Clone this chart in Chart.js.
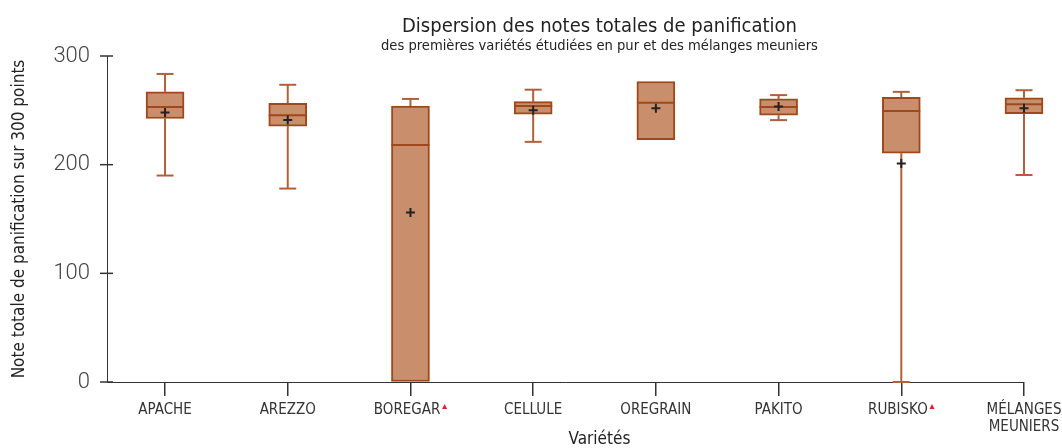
<!DOCTYPE html>
<html>
<head>
<meta charset="utf-8">
<script src="https://cdn.jsdelivr.net/npm/chart.js@4/dist/chart.umd.min.js"></script>
<style>
  html, body { margin: 0; padding: 0; background: #fff; overflow: hidden; }
  #wrap { width: 1062px; height: 448px; }
</style>
</head>
<body>
<div id="wrap"><canvas id="chart"></canvas></div>
<script>
const varieties = ['APACHE', 'AREZZO', 'BOREGAR', 'CELLULE', 'OREGRAIN', 'PAKITO', 'RUBISKO', ['MÉLANGES', 'MEUNIERS']];
const flagged = [false, false, true, false, false, false, true, false];
const mins    = [190,   178,   0,     221,   223,   241,   0,     190.5];
const q1s     = [242.5, 235.5, 0,     246.5, 223,   245.5, 210.5, 247];
const medians = [253,   245.5, 218,   254,   257,   253,   249.5, 255.5];
const q3s     = [267,   256.5, 254,   258,   276.5, 260.5, 262,   261.5];
const maxs    = [283.5, 273.5, 260.5, 269,   276.5, 264,   267,   268.5];
const means   = [248,   241,   156,   250,   252,   253.5, 201,   252];
const yTicks  = [0, 100, 200, 300];

const NARROW = "'DejaVu Sans Condensed', 'Liberation Sans', sans-serif";
const BOX_FILL = 'rgb(201, 143, 108)';
const BOX_LINE = '#a0471b';
const WHISKER = '#b0603a';

// whiskers, medians, axis crosses, red flags and titles
const boxParts = {
    id: 'boxParts',
    beforeDatasetsDraw(chart) {
        const { ctx, scales: { y } } = chart;
        const bars = chart.getDatasetMeta(0).data;
        ctx.save();
        ctx.strokeStyle = WHISKER;
        ctx.lineWidth = 2;
        bars.forEach((bar, i) => {
            const x = bar.x;
            const seg = (a, b) => {
                ctx.beginPath();
                ctx.moveTo(x, y.getPixelForValue(a));
                ctx.lineTo(x, y.getPixelForValue(b));
                ctx.stroke();
            };
            const cap = (v) => {
                const py = y.getPixelForValue(v);
                ctx.beginPath();
                ctx.moveTo(x - 8.5, py);
                ctx.lineTo(x + 8.5, py);
                ctx.stroke();
            };
            if (maxs[i] > q3s[i]) { seg(q3s[i], maxs[i]); cap(maxs[i]); }
            if (mins[i] < q1s[i]) { seg(mins[i], q1s[i]); cap(mins[i]); }
        });
        ctx.restore();
    },
    afterDatasetDraw(chart, args) {
        if (args.index !== 0) return;
        const { ctx, scales: { y } } = chart;
        ctx.save();
        ctx.strokeStyle = BOX_LINE;
        ctx.lineWidth = 2;
        chart.getDatasetMeta(0).data.forEach((bar, i) => {
            const py = y.getPixelForValue(medians[i]);
            ctx.beginPath();
            ctx.moveTo(bar.x - bar.width / 2, py);
            ctx.lineTo(bar.x + bar.width / 2, py);
            ctx.stroke();
        });
        ctx.restore();
    },
    afterDraw(chart) {
        const { ctx, scales: { x, y } } = chart;
        ctx.save();
        // tick marks crossing the y axis
        ctx.strokeStyle = '#333';
        ctx.lineWidth = 1.5;
        yTicks.forEach(v => {
            const py = y.getPixelForValue(v);
            ctx.beginPath();
            ctx.moveTo(y.right - 7, py);
            ctx.lineTo(y.right + 6, py);
            ctx.stroke();
        });
        // red triangles after flagged labels
        ctx.font = '15px ' + NARROW;
        ctx.fillStyle = '#e0202a';
        varieties.forEach((name, i) => {
            if (!flagged[i]) return;
            const w = ctx.measureText(name + '\u2002').width;
            const right = x.getPixelForValue(i) + w / 2;
            const top = x.top + 22;
            ctx.beginPath();
            ctx.moveTo(right - 5, top + 5);
            ctx.lineTo(right, top + 5);
            ctx.lineTo(right - 2.5, top);
            ctx.closePath();
            ctx.fill();
        });
        // titles
        const cx = x.getPixelForValue(3.54);
        ctx.fillStyle = '#222';
        ctx.textAlign = 'center';
        ctx.textBaseline = 'alphabetic';
        ctx.font = '20px ' + NARROW;
        ctx.fillText('Dispersion des notes totales de panification', cx, 32);
        ctx.font = '14.6px ' + NARROW;
        ctx.fillText('des premières variétés étudiées en pur et des mélanges meuniers', cx, 50);
        ctx.font = '17px ' + NARROW;
        ctx.fillText('Variétés', cx, 444);
        ctx.restore();
    }
};

new Chart(document.getElementById('chart'), {
    type: 'bar',
    data: {
        datasets: [{
            type: 'bar',
            data: varieties.map((_, i) => ({ x: i, y: [q1s[i], q3s[i]] })),
            backgroundColor: BOX_FILL,
            borderColor: BOX_LINE,
            borderWidth: 2,
            borderSkipped: false,
            barThickness: 38,
            grouped: false,
            clip: false,
            order: 2,
        }, {
            type: 'line',
            data: varieties.map((_, i) => ({ x: i, y: means[i] })),
            showLine: false,
            pointStyle: 'cross',
            pointRadius: 4.5,
            pointBorderColor: '#222',
            pointBorderWidth: 2,
            clip: false,
            order: 1,
        }],
    },
    options: {
        responsive: true,
        maintainAspectRatio: false,
        animation: false,
        layout: {
            padding: { top: 56, right: 38, bottom: 0, left: 0 },
        },
        scales: {
            x: {
                type: 'linear',
                offset: false,
                min: -0.473,
                max: 7,
                afterBuildTicks: (scale) => { scale.ticks = varieties.map((_, i) => ({ value: i })); },
                afterFit: (scale) => { scale.height = 66; scale.paddingRight = 0; scale.paddingLeft = 0; },
                grid: { display: true, offset: false, drawOnChartArea: false, drawTicks: true, tickLength: 14, color: '#333', lineWidth: 1.5 },
                border: { display: true, color: '#333', dash: [1, 2], width: 1 },
                ticks: {
                    autoSkip: false,
                    maxRotation: 0,
                    padding: 5,
                    color: '#333',
                    font: { family: NARROW, size: 15, lineHeight: 1.15 },
                    callback: (v) => {
                        const name = varieties[v];
                        return flagged[v] ? name + '\u2002' : name;
                    },
                },
            },
            y: {
                min: 0,
                max: 300,
                afterBuildTicks: (scale) => { scale.ticks = yTicks.map(v => ({ value: v })); },
                afterFit: (scale) => { scale.width = 107; },
                grid: { display: true, drawOnChartArea: false, drawTicks: false },
                border: { display: true, color: '#333', dash: [1, 2], width: 1 },
                ticks: {
                    padding: 17,
                    color: '#444',
                    font: { family: 'Roboto', size: 22, weight: 300 },
                },
                title: {
                    display: true,
                    text: 'Note totale de panification sur 300 points',
                    color: '#222',
                    font: { family: NARROW, size: 17 },
                    padding: { top: 9, bottom: 0 },
                },
            },
        },
        plugins: {
            legend: { display: false },
            tooltip: { enabled: false },
        },
    },
    plugins: [boxParts],
});
</script>
</body>
</html>
